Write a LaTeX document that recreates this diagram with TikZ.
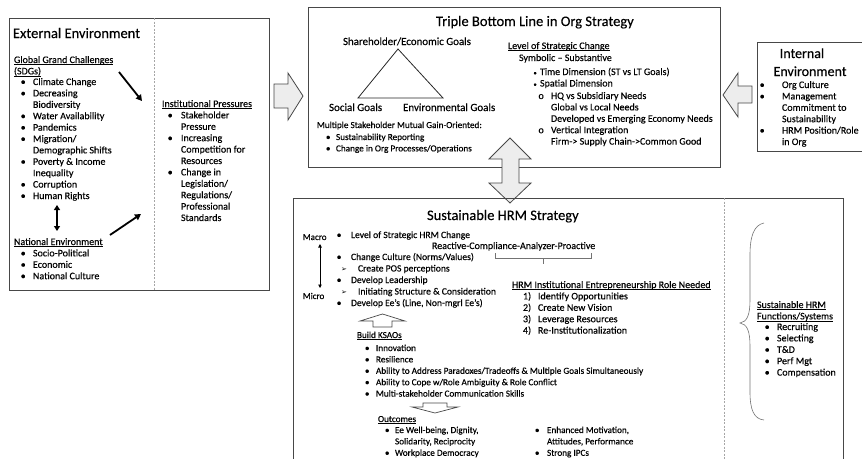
\documentclass[tikz,border=0pt]{standalone}
\usepackage{fontspec}
\setmainfont{Carlito}[FakeBold=0.3]
\newfontfamily\symfont{DejaVu Sans}
\usetikzlibrary{arrows.meta}

% a left-aligned stack of lines whose baseline is the first line's
\newcommand\blk[1]{\begin{tabular}[t]{@{}l@{}}#1\end{tabular}}
\newlength\bulw
\newcommand\bi[1]{\makebox[\bulw][l]{•}#1}
\newcommand\ci[1]{\hspace*{\bulw}#1}
\newcommand\oi[1]{\makebox[\bulw][l]{o}#1}
\newcommand\numi[2]{\makebox[\bulw][l]{#1}#2}
\newcommand\tipmark{{\symfont\fontsize{7}{7}\selectfont ➢}}
\newcommand\fs[1]{\fontsize{#1}{11.4}\selectfont}
% underline set close to the baseline
\newcommand\uln[1]{\leavevmode\setbox0=\hbox{#1}\rlap{\rule[-1.7pt]{\wd0}{0.55pt}}\box0}

\tikzset{
  txt/.style={anchor=base west, inner sep=0pt, outer sep=0pt,
    font=\fs{10}, text=black},
  ttl/.style={txt, font=\fontsize{14.5}{16}\selectfont},
  frame/.style={draw=black!72, line width=0.8pt},
  divider/.style={draw=black!35, dash pattern=on 2pt off 1.5pt, line width=0.6pt},
  blockarrow/.style={draw=black!72, fill=black!7, line width=0.8pt, line join=miter},
  openarrow/.style={draw=black!72, fill=white, line width=0.7pt, line join=miter},
  pointer/.style={line width=1.8pt, -{Triangle[length=6pt,width=6.5pt]}},
  twoway/.style={line width=1.8pt, {Triangle[length=5pt,width=6pt]}-{Triangle[length=5pt,width=6pt]}},
  thinway/.style={line width=0.7pt, {Triangle[length=3.5pt,width=3.5pt]}-{Triangle[length=3.5pt,width=3.5pt]}},
  bracket/.style={draw=black!55, line width=0.6pt},
}

\begin{document}
\begin{tikzpicture}[x=1pt,y=-1pt]
\useasboundingbox (0,0) rectangle (862,458);
\clip (0,0) rectangle (862,458);

% ---------------- External Environment ----------------
\draw[frame] (9,18) rectangle (269,290);
\draw[divider] (154,18) -- (154,290);
\node[ttl] (extT) at (13,38) {External Environment};
\node[txt] (gcH) at (14,63) {\blk{\uln{Global Grand Challenges}\\ \uln{(SDGs)}}};
\node[txt] (gcL) at (20.7,85) {\setlength\bulw{12.3pt}\blk{%
  \bi{Climate Change}\\ \bi{Decreasing}\\ \ci{Biodiversity}\\ \bi{Water Availability}\\
  \bi{Pandemics}\\ \bi{Migration/}\\ \ci{Demographic Shifts}\\ \bi{Poverty \& Income}\\
  \ci{Inequality}\\ \bi{Corruption}\\ \bi{Human Rights}}};
\node[txt] (neH) at (14,245) {\uln{National Environment}};
\node[txt] (neL) at (20.7,256.4) {\setlength\bulw{12.3pt}\blk{%
  \bi{Socio-Political}\\ \bi{Economic}\\ \bi{National Culture}}};
\node[txt] (ipH) at (162,107) {\uln{Institutional Pressures}};
\node[txt] (ipL) at (167.7,118.4) {\setlength\bulw{13.3pt}\blk{%
  \bi{Stakeholder}\\ \ci{Pressure}\\ \bi{Increasing}\\ \ci{Competition for}\\ \ci{Resources}\\
  \bi{Change in}\\ \ci{Legislation/}\\ \ci{Regulations/}\\ \ci{Professional}\\ \ci{Standards}}};
\coordinate (gcA) at (119,72);
\coordinate (gcB) at (142,101);
\coordinate (neA) at (110,235);
\coordinate (neB) at (141,214);
\coordinate (hrA) at (57,205);
\coordinate (hrB) at (57,231);
\draw[pointer] (gcA) -- (gcB);
\draw[pointer] (neA) -- (neB);
\draw[twoway] (hrA) -- (hrB);

% arrow into the strategy box
\draw[blockarrow] (274,84) -- (288,84) -- (288,73) -- (303,96) -- (288,120) -- (288,108) -- (274,108) -- cycle;

% ---------------- Triple Bottom Line ----------------
\draw[frame] (308,7) rectangle (720,167);
\node[ttl] (tblT) at (436,26) {Triple Bottom Line in Org Strategy};
\node[txt, font=\fs{10.9}] (shG) at (343,45) {Shareholder/Economic Goals};
\coordinate (triA) at (398,49);
\coordinate (triB) at (358,98);
\coordinate (triC) at (443,98);
\draw[line width=0.8pt, black!85, line join=miter] (triA) -- (triB) -- (triC) -- cycle;
\node[txt, font=\fs{11}] (soG) at (329,111) {Social Goals};
\node[txt, font=\fs{11}] (enG) at (403,111) {Environmental Goals};
\node[txt, font=\fs{9.2}] (msH) at (317,128) {Multiple Stakeholder Mutual Gain-Oriented:};
\node[txt, font=\fs{9.2}] (msL) at (325.9,140) {\setlength\bulw{10.1pt}\blk{%
  \bi{Sustainability Reporting}\\ \bi{Change in Org Processes/Operations}}};
\node[txt] (lsH) at (508,49) {\uln{Level of Strategic Change}};
\node[txt] (lsS) at (519,61) {Symbolic – Substantive};
\node[txt] (lsT) at (533.5,75) {\makebox[6.5pt][l]{\fontsize{6.5}{6.5}\selectfont •}Time Dimension (ST vs LT Goals)};
\node[txt] (lsD) at (533.5,86.5) {\makebox[6.5pt][l]{\fontsize{6.5}{6.5}\selectfont •}Spatial Dimension};
\node[txt] (lsL) at (538.5,99) {\setlength\bulw{12.5pt}\blk{%
  \oi{HQ vs Subsidiary Needs}\\ \ci{Global vs Local Needs}\\ \ci{Developed vs Emerging Economy Needs}\\
  \oi{Vertical Integration}\\ \ci{Firm-> Supply Chain->Common Good}}};

% ---------------- Internal Environment ----------------
\draw[frame] (757,42) rectangle (875,151);
\node[ttl, font=\fontsize{14}{16}\selectfont, anchor=base] (inT1) at (802,58) {Internal};
\node[ttl, font=\fontsize{14}{16}\selectfont, anchor=base] (inT2) at (810,76) {Environment};
\node[txt] (inL) at (759.7,88) {\setlength\bulw{22.3pt}\blk{%
  \bi{Org Culture}\\ \bi{Management}\\ \ci{Commitment to}\\ \ci{Sustainability}\\
  \bi{HRM Position/Role}\\ \ci{in Org}}};
\draw[blockarrow] (752,86) -- (738,86) -- (738,73) -- (723,95) -- (738,117) -- (738,103) -- (752,103) -- cycle;

% two-way arrow between strategy levels
\draw[blockarrow] (510,138) -- (531,159) -- (519,159) -- (519,183) -- (531,183) -- (510,203)
  -- (489,183) -- (502,183) -- (502,159) -- (489,159) -- cycle;

% ---------------- Sustainable HRM Strategy ----------------
\draw[frame] (293,198) rectangle (843,480);
\draw[divider] (724,198) -- (724,480);
\node[ttl] (hrT) at (427,220) {Sustainable HRM Strategy};
\node[txt, font=\fs{9}] (maX) at (303,240) {Macro};
\node[txt, font=\fs{9}] (miX) at (303,299) {Micro};
\coordinate (mmA) at (320,244);
\coordinate (mmB) at (320,288);
\draw[thinway] (mmA) -- (mmB);
\setlength\bulw{14.3pt}
\node[txt, font=\fs{9.6}] (hs1) at (336.7,238) {\bi{Level of Strategic HRM Change}};
\node[txt, font=\fs{9.6}] (hs2) at (336.7,260) {\bi{Change Culture (Norms/Values)}};
\node[txt, font=\fs{9.6}] (hs3) at (341,271.5) {\makebox[17pt][l]{\tipmark}Create POS perceptions};
\node[txt, font=\fs{9.6}] (hs4) at (336.7,283) {\bi{Develop Leadership}};
\node[txt, font=\fs{9.6}] (hs5) at (341,294.5) {\makebox[17pt][l]{\tipmark}Initiating Structure \& Consideration};
\node[txt, font=\fs{9.6}] (hs6) at (336.7,306) {\bi{Develop Ee’s (Line, Non-mgrl Ee’s)}};
\node[txt] (rcap) at (432,249) {Reactive-Compliance-Analyzer-Proactive};
\coordinate (brL) at (495,253);
\coordinate (brR) at (591,253);
\coordinate (brM) at (543,258);
\draw[bracket] (brL) -- (495,258) -- (591,258) -- (brR);
\draw[bracket] (brM) -- (543,264);
\node[txt] (ieH) at (512,288) {\uln{HRM Institutional Entrepreneurship Role Needed}};
\node[txt] (ieL) at (523,299.4) {\setlength\bulw{15pt}\blk{%
  \numi{1)}{Identify Opportunities}\\ \numi{2)}{Create New Vision}\\ \numi{3)}{Leverage Resources}\\
  \numi{4)}{Re-Institutionalization}}};
\draw[openarrow] (382.5,314) -- (405,321) -- (392,321) -- (392,327) -- (373,327) -- (373,321) -- (360,321) -- cycle;
\node[txt, font=\fs{9.2}] (ksH) at (357,338) {\uln{Build KSAOs}};
\node[txt, font=\fs{9.2}] (ksL) at (364.9,351) {\setlength\bulw{11.1pt}\blk{%
  \bi{Innovation}\\ \bi{Resilience}\\ \bi{Ability to Address Paradoxes/Tradeoffs \& Multiple Goals Simultaneously}\\
  \bi{Ability to Cope w/Role Ambiguity \& Role Conflict}\\ \bi{Multi-stakeholder Communication Skills}}};
\draw[openarrow] (423,403) -- (447,403) -- (447,407) -- (458,407) -- (435,413) -- (412,407) -- (423,407) -- cycle;
\node[txt, font=\fs{9.2}] (ouH) at (378,422) {\uln{Outcomes}};
\node[txt, font=\fs{9.2}] (ouL) at (384.9,433) {\setlength\bulw{10.1pt}\blk{%
  \bi{Ee Well-being, Dignity,}\\ \ci{Solidarity, Reciprocity}\\ \bi{Workplace Democracy}}};
\node[txt, font=\fs{9.2}] (ouR) at (534.9,433) {\setlength\bulw{12.1pt}\blk{%
  \bi{Enhanced Motivation,}\\ \ci{Attitudes, Performance}\\ \bi{Strong IPCs}}};
\coordinate (cbT) at (764,223);
\coordinate (cbM) at (740,323);
\coordinate (cbB) at (764,420);
\draw[bracket] (cbT) .. controls (754,225) and (750,236) .. (750,255) -- (750,300)
  .. controls (750,315) and (747,322) .. (cbM)
  .. controls (747,324) and (750,331) .. (750,346) -- (750,392)
  .. controls (750,410) and (754,419) .. (cbB);
\node[txt] (sfH) at (757,308) {\blk{\uln{Sustainable HRM}\\ \uln{Functions/Systems}}};
\node[txt] (sfL) at (764.7,330) {\setlength\bulw{12.3pt}\blk{%
  \bi{Recruiting}\\ \bi{Selecting}\\ \bi{T\&D}\\ \bi{Perf Mgt}\\ \bi{Compensation}}};
\end{tikzpicture}
\end{document}
